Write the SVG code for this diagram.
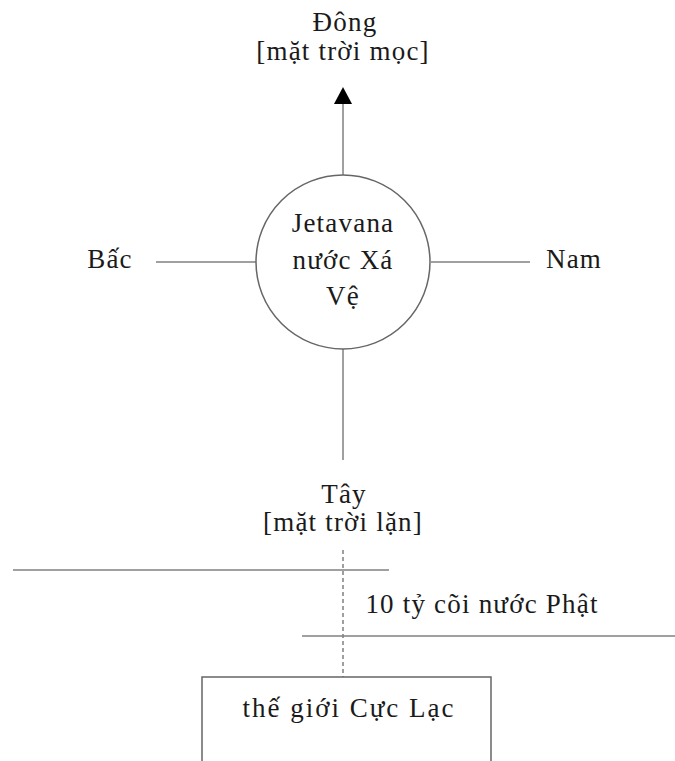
<svg xmlns="http://www.w3.org/2000/svg" width="675" height="761" viewBox="0 0 675 761">
<style>
text{font-family:"Liberation Serif","Times New Roman",serif;font-size:27px;letter-spacing:1.2px;fill:#1a1a1a;text-anchor:middle}
.ln{stroke:#808080;stroke-width:1.5;fill:none}
</style>
<rect width="675" height="761" fill="#fff"/>
<g id="connectors">
<line class="ln" x1="343" y1="176" x2="343" y2="100"/>
<path d="M334,104 L343,87 L352,104 z" fill="#000"/>
<line class="ln" x1="343" y1="349" x2="343" y2="460"/>
<line class="ln" x1="156" y1="262" x2="256" y2="262"/>
<line class="ln" x1="431" y1="262" x2="530" y2="262"/>
<line class="ln" x1="13" y1="570" x2="389" y2="570"/>
<line class="ln" x1="302" y1="636" x2="675" y2="636"/>
<line class="ln" x1="343" y1="550" x2="343" y2="677" stroke-dasharray="4,3" stroke-width="1"/>
</g>
<g id="center">
<circle cx="343" cy="262" r="87" fill="#fff" stroke="#666" stroke-width="1.5"/>
<text x="343" y="232">Jetavana</text>
<text x="343" y="269">nước Xá</text>
<text x="343" y="305">Vệ</text>
</g>
<g id="east">
<text x="345" y="31">Đông</text>
<text x="343" y="60">[mặt trời mọc]</text>
</g>
<g id="north"><text x="110" y="268">Bấc</text></g>
<g id="south"><text x="574" y="268">Nam</text></g>
<g id="west">
<text x="344" y="503">Tây</text>
<text x="343" y="531">[mặt trời lặn]</text>
</g>
<g id="distance"><text x="482" y="613">10 tỷ cõi nước Phật</text></g>
<g id="sukhavati">
<rect x="202" y="677" width="289" height="100" fill="#fff" stroke="#666" stroke-width="1.5"/>
<text x="349" y="717" style="letter-spacing:2px">thế giới Cực Lạc</text>
</g>
</svg>
